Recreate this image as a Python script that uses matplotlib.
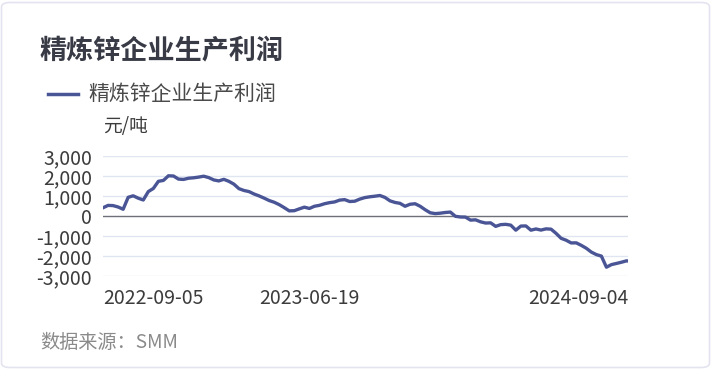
import matplotlib
matplotlib.use("Agg")
import matplotlib.pyplot as plt
from matplotlib.patches import FancyBboxPatch
import pandas as pd

plt.rcParams['font.family'] = ['Noto Sans CJK SC', 'DejaVu Sans']

# === Data (weekly readings, yuan/tonne) ===
title = "精炼锌企业生产利润"
series_name = "精炼锌企业生产利润"
unit_label = "元/吨"
source_text = "数据来源：SMM"

start_date = "2022-09-05"
end_date = "2024-09-04"
profit = [
    410, 530, 520, 450, 337, 935, 1010, 890, 800, 1221,
    1377, 1734, 1779, 2010, 2000, 1844, 1829, 1889, 1910, 1945,
    1990, 1920, 1804, 1754, 1834, 1734, 1593, 1367, 1276, 1221,
    1100, 1005, 894, 774, 688, 568, 417, 256, 266, 357,
    442, 377, 487, 533, 613, 668, 703, 794, 819, 724,
    739, 844, 920, 960, 990, 1025, 930, 759, 678, 633,
    487, 588, 613, 487, 312, 161, 120, 141, 176, 196,
    -15, -50, -55, -206, -191, -291, -352, -342, -518, -432,
    -417, -457, -709, -503, -497, -709, -648, -704, -643, -658,
    -869, -1116, -1211, -1347, -1342, -1467, -1613, -1804, -1930, -2005,
    -2560, -2430, -2372, -2311, -2241, -2250,
]
tick_dates = ["2022-09-05", "2023-06-19", "2024-09-04"]
y_ticks = [-3000, -2000, -1000, 0, 1000, 2000, 3000]

dates = pd.date_range(start_date, periods=len(profit) - 1, freq="7D")
dates = dates.append(pd.DatetimeIndex([end_date]))

LINE_COLOR = "#4a5596"
W, H = 712, 369

fig = plt.figure(figsize=(W / 100, H / 100), dpi=100)
fig.patch.set_facecolor("white")

# card background
card = FancyBboxPatch((1.5 / W, 1.5 / H), (W - 4) / W, (H - 4) / H,
                      boxstyle="round,pad=0,rounding_size=0.012",
                      transform=fig.transFigure, facecolor="white",
                      edgecolor="#e4e4f0", linewidth=1.2, zorder=-5)
fig.patches.append(card)

ax = fig.add_axes([103 / W, 1 - 276 / H, (628 - 103) / W, (276 - 156) / H])
ax.set_facecolor("none")
ax.set_zorder(2)

ax.plot(dates, profit, color=LINE_COLOR, linewidth=2.4, zorder=3,
        solid_joinstyle="round")

ax.set_ylim(-3000, 3000)
ax.set_xlim(pd.Timestamp(start_date), pd.Timestamp(end_date))
ax.set_yticks(y_ticks)
ax.set_yticklabels([f"{v:,}" for v in y_ticks])
for v in y_ticks:
    if v != 0:
        ax.axhline(v, color="#e0e6f1", linewidth=1, zorder=1)
ax.axhline(0, color="#6e7079", linewidth=1, zorder=2)

ax.set_xticks(pd.to_datetime(tick_dates))
ax.set_xticklabels(tick_dates)
xlabels = ax.get_xticklabels()
xlabels[0].set_ha("left")
xlabels[-1].set_ha("right")

ax.tick_params(axis="both", length=0, labelsize=14, labelcolor="#3c3c3c")
ax.tick_params(axis="y", pad=8)
ax.tick_params(axis="x", pad=9)
for s in ax.spines.values():
    s.set_visible(False)

# title, legend, unit, source
fig.text(40 / W, 1 - 50 / H, title, fontsize=19.5, fontweight="bold",
         color="#383a45", ha="left", va="center")
fig.lines.append(plt.Line2D([48 / W, 78 / W], [1 - 94 / H, 1 - 94 / H],
                            transform=fig.transFigure, color=LINE_COLOR,
                            linewidth=2.5))
fig.text(88 / W, 1 - 94 / H, series_name, fontsize=15, color="#4a4a4a",
         ha="left", va="center")
fig.text(103 / W, 1 - 126 / H, unit_label, fontsize=13.5, color="#3c3c3c",
         ha="left", va="center")
fig.text(40 / W, 1 - 342 / H, source_text, fontsize=13.8, color="#8a8a8a",
         ha="left", va="center")

fig.savefig("out.png", dpi=100, facecolor="white")
